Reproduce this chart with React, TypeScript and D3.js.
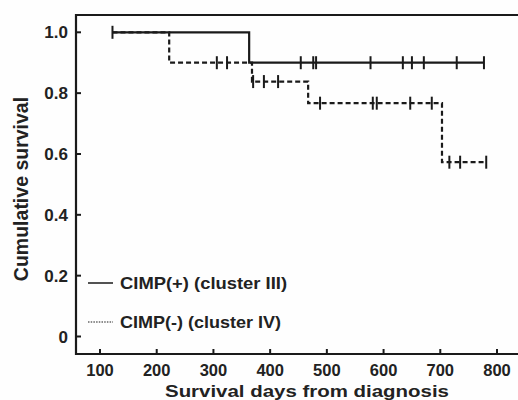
import React from "react";
import * as d3 from "d3";

const xTicks = [100, 200, 300, 400, 500, 600, 700, 800];
const yTicks = [0, 0.2, 0.4, 0.6, 0.8, 1.0];
const yTickLabels = ["0", "0.2", "0.4", "0.6", "0.8", "1.0"];

// CIMP(+) (cluster III)
const plusTimes = [122, 363];
const plusSurv = [1.0, 0.9];
const plusEnd = 777;
const plusCensors = [122, 454, 476, 481, 577, 634, 650, 671, 729, 777];

// CIMP(-) (cluster IV)
const minusTimes = [122, 222, 368, 467, 703];
const minusSurv = [1.0, 0.9, 0.838, 0.767, 0.573];
const minusEnd = 781;
const minusCensors = [306, 324, 370, 389, 414, 488, 581, 588, 647, 685, 716, 735, 781];

const legendLabels = ["CIMP(+) (cluster III)", "CIMP(-) (cluster IV)"];

const W = 518;
const H = 400;
const FONT = "'Liberation Sans', Arial, sans-serif";

const x = d3.scaleLinear().domain([100, 800]).range([100, 497]);
const y = d3.scaleLinear().domain([0, 1]).range([336.5, 32.3]);

const left = 76;
const top = 15;
const bottom = 354;
const right = 521;

function stepPath(times: number[], surv: number[], end: number) {
  const pts: [number, number][] = [];
  times.forEach((t, i) => {
    if (i > 0) pts.push([t, surv[i - 1]]);
    pts.push([t, surv[i]]);
  });
  pts.push([end, surv[surv.length - 1]]);
  return d3.line<[number, number]>().x((d) => x(d[0])).y((d) => y(d[1]))(pts) || "";
}

function survAt(times: number[], surv: number[], t: number) {
  let s = surv[0];
  times.forEach((tt, i) => {
    if (t >= tt) s = surv[i];
  });
  return s;
}

export default function App() {
  const plusD = stepPath(plusTimes, plusSurv, plusEnd);
  const minusD = stepPath(minusTimes, minusSurv, minusEnd);
  return (
    <svg
      width={W}
      height={H}
      style={{ position: "absolute", left: 0, top: 0, background: "#fff" }}
      fontFamily={FONT}
      fontWeight="bold"
    >
      <rect x={0} y={0} width={W} height={H} fill="#fefefe" />
      {/* frame */}
      <path
        d={`M${right},${top}H${left}V${bottom}H${right}`}
        fill="none"
        stroke="#1a1a1a"
        strokeWidth={2.2}
      />
      {/* y ticks */}
      {yTicks.map((t, i) => (
        <g key={"y" + i}>
          <line x1={left} x2={left + 5} y1={y(t)} y2={y(t)} stroke="#1a1a1a" strokeWidth={2} />
          <text x={68} y={y(t) + 6} textAnchor="end" fontSize={17} fill="#222">
            {yTickLabels[i]}
          </text>
        </g>
      ))}
      {/* x ticks */}
      {xTicks.map((t) => (
        <g key={"x" + t}>
          <line x1={x(t)} x2={x(t)} y1={bottom} y2={bottom - 5} stroke="#1a1a1a" strokeWidth={2} />
          <text x={x(t)} y={376} textAnchor="middle" fontSize={16.5} fill="#222">
            {t}
          </text>
        </g>
      ))}
      {/* axis titles */}
      <text
        transform={`translate(28,189) rotate(-90)`}
        textAnchor="middle"
        fontSize={19.5}
        fill="#222"
      >
        Cumulative survival
      </text>
      <text
        x={165}
        y={396.5}
        fontSize={17}
        textLength={284}
        lengthAdjust="spacingAndGlyphs"
        fill="#222"
      >
        Survival days from diagnosis
      </text>

      {/* curves */}
      <path d={minusD} fill="none" stroke="#1a1a1a" strokeWidth={2.2} strokeDasharray="5,3" />
      <path d={plusD} fill="none" stroke="#1a1a1a" strokeWidth={2.2} />
      {minusCensors.map((t, i) => {
        const cy = y(survAt(minusTimes, minusSurv, t));
        return (
          <line key={"mc" + i} x1={x(t)} x2={x(t)} y1={cy - 6.5} y2={cy + 6.5} stroke="#1a1a1a" strokeWidth={2} />
        );
      })}
      {plusCensors.map((t, i) => {
        const cy = y(survAt(plusTimes, plusSurv, t));
        return (
          <line key={"pc" + i} x1={x(t)} x2={x(t)} y1={cy - 6.5} y2={cy + 6.5} stroke="#1a1a1a" strokeWidth={2} />
        );
      })}

      {/* legend */}
      <line x1={88} x2={113} y1={283} y2={283} stroke="#1a1a1a" strokeWidth={1.5} />
      <text x={120} y={289} fontSize={17} textLength={167} lengthAdjust="spacingAndGlyphs" fill="#222">
        {legendLabels[0]}
      </text>
      <line x1={88} x2={113} y1={322} y2={322} stroke="#1a1a1a" strokeWidth={1.2} strokeDasharray="1.5,1.2" />
      <text x={120} y={328} fontSize={17} textLength={161} lengthAdjust="spacingAndGlyphs" fill="#222">
        {legendLabels[1]}
      </text>
    </svg>
  );
}
